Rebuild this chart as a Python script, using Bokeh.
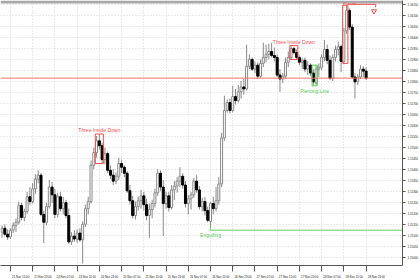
from bokeh.plotting import figure
from bokeh.models import (Range1d, FixedTicker, Span, BoxAnnotation, Label,
                          ColumnDataSource, NumeralTickFormatter)
from bokeh.embed import file_html
from bokeh.resources import INLINE

# ---------------- data (H1 candles, bar index 0 = 21 Nov 15:00) ----------------
first_index = -3
opens = [1.15115, 1.15133, 1.15106, 1.15093, 1.15124, 1.15146, 1.15160, 1.15236, 1.15182, 1.15209,
         1.15276, 1.15254, 1.15312, 1.15356, 1.15374, 1.15196, 1.15160, 1.15231, 1.15320, 1.15285,
         1.15196, 1.15276, 1.15222, 1.15249, 1.15191, 1.15071, 1.15097, 1.15084, 1.15111, 1.15080,
         1.15151, 1.15222, 1.15254, 1.15419, 1.15477, 1.15530, 1.15508, 1.15445, 1.15472, 1.15396,
         1.15374, 1.15347, 1.15369, 1.15427, 1.15410, 1.15383, 1.15303, 1.15258, 1.15191, 1.15231,
         1.15258, 1.15280, 1.15240, 1.15191, 1.15218, 1.15245, 1.15294, 1.15383, 1.15320, 1.15245,
         1.15280, 1.15227, 1.15307, 1.15325, 1.15347, 1.15369, 1.15329, 1.15245, 1.15267, 1.15285,
         1.15347, 1.15307, 1.15231, 1.15254, 1.15213, 1.15164, 1.15245, 1.15222, 1.15258, 1.15334,
         1.15543, 1.15668, 1.15704, 1.15668, 1.15731, 1.15713, 1.15753, 1.15775, 1.15766, 1.15869,
         1.15900, 1.15856, 1.15874, 1.15824, 1.15882, 1.15909, 1.15923, 1.15936, 1.15918, 1.15909,
         1.15829, 1.15811, 1.15824, 1.15887, 1.15909, 1.15949, 1.15931, 1.15909, 1.15887, 1.15896,
         1.15856, 1.15874, 1.15838, 1.15793, 1.15856, 1.15865, 1.15909, 1.15945, 1.15896, 1.15815,
         1.15909, 1.15945, 1.15958, 1.15891, 1.16030, 1.16123, 1.16047, 1.15820, 1.15798, 1.15820,
         1.15856, 1.15847]
highs = [1.15146, 1.15151, 1.15128, 1.15133, 1.15160, 1.15178, 1.15254, 1.15249, 1.15222, 1.15298,
         1.15320, 1.15338, 1.15378, 1.15396, 1.15383, 1.15213, 1.15249, 1.15352, 1.15343, 1.15312,
         1.15294, 1.15298, 1.15276, 1.15262, 1.15222, 1.15115, 1.15124, 1.15128, 1.15133, 1.15164,
         1.15240, 1.15276, 1.15441, 1.15499, 1.15552, 1.15561, 1.15521, 1.15499, 1.15481, 1.15419,
         1.15401, 1.15387, 1.15454, 1.15445, 1.15419, 1.15392, 1.15329, 1.15280, 1.15254, 1.15276,
         1.15307, 1.15298, 1.15267, 1.15245, 1.15262, 1.15312, 1.15401, 1.15396, 1.15352, 1.15298,
         1.15298, 1.15329, 1.15347, 1.15365, 1.15410, 1.15383, 1.15347, 1.15285, 1.15298, 1.15361,
         1.15374, 1.15325, 1.15271, 1.15276, 1.15231, 1.15254, 1.15276, 1.15320, 1.15365, 1.15566,
         1.15735, 1.15717, 1.15722, 1.15780, 1.15766, 1.15784, 1.15802, 1.15811, 1.15967, 1.15923,
         1.15909, 1.15891, 1.15887, 1.15900, 1.15976, 1.15967, 1.15972, 1.15976, 1.15954, 1.15923,
         1.15856, 1.15838, 1.15909, 1.15936, 1.15963, 1.15958, 1.15945, 1.15918, 1.15905, 1.15909,
         1.15891, 1.15882, 1.15856, 1.15874, 1.15882, 1.15923, 1.15989, 1.15967, 1.15918, 1.15923,
         1.15963, 1.15981, 1.15967, 1.16043, 1.16146, 1.16132, 1.16061, 1.15838, 1.15833, 1.15874,
         1.15869, 1.15865]
lows = [1.15089, 1.15097, 1.15080, 1.15084, 1.15111, 1.15115, 1.15151, 1.15169, 1.15164, 1.15196,
        1.15240, 1.15245, 1.15289, 1.15338, 1.15187, 1.15066, 1.15146, 1.15222, 1.15249, 1.15178,
        1.15182, 1.15209, 1.15196, 1.15178, 1.15062, 1.15057, 1.15071, 1.15066, 1.15071, 1.14973,
        1.15138, 1.15196, 1.15245, 1.15401, 1.15454, 1.15490, 1.15427, 1.15423, 1.15383, 1.15356,
        1.15329, 1.15334, 1.15352, 1.15383, 1.15365, 1.15294, 1.15240, 1.15178, 1.15173, 1.15213,
        1.15222, 1.15213, 1.15169, 1.15089, 1.15178, 1.15227, 1.15280, 1.15303, 1.15097, 1.15222,
        1.15209, 1.15218, 1.15262, 1.15294, 1.15320, 1.15312, 1.15227, 1.15196, 1.15218, 1.15271,
        1.15294, 1.15218, 1.15209, 1.15191, 1.15160, 1.15124, 1.15196, 1.15209, 1.15240, 1.15320,
        1.15530, 1.15659, 1.15655, 1.15659, 1.15695, 1.15704, 1.15722, 1.15740, 1.15758, 1.15856,
        1.15847, 1.15838, 1.15811, 1.15815, 1.15865, 1.15887, 1.15900, 1.15909, 1.15891, 1.15820,
        1.15753, 1.15793, 1.15811, 1.15865, 1.15900, 1.15923, 1.15900, 1.15874, 1.15856, 1.15842,
        1.15829, 1.15824, 1.15780, 1.15784, 1.15820, 1.15851, 1.15891, 1.15878, 1.15807, 1.15802,
        1.15891, 1.15918, 1.15842, 1.15882, 1.16016, 1.16034, 1.15811, 1.15722, 1.15784, 1.15811,
        1.15820, 1.15807]
closes = [1.15133, 1.15106, 1.15093, 1.15124, 1.15146, 1.15160, 1.15236, 1.15182, 1.15209, 1.15276,
          1.15254, 1.15312, 1.15356, 1.15374, 1.15196, 1.15160, 1.15231, 1.15320, 1.15285, 1.15196,
          1.15276, 1.15222, 1.15249, 1.15191, 1.15071, 1.15097, 1.15084, 1.15111, 1.15080, 1.15151,
          1.15222, 1.15254, 1.15419, 1.15477, 1.15530, 1.15508, 1.15445, 1.15472, 1.15396, 1.15374,
          1.15347, 1.15369, 1.15427, 1.15410, 1.15383, 1.15303, 1.15258, 1.15191, 1.15231, 1.15258,
          1.15280, 1.15240, 1.15191, 1.15218, 1.15245, 1.15294, 1.15383, 1.15320, 1.15245, 1.15280,
          1.15227, 1.15307, 1.15325, 1.15347, 1.15369, 1.15329, 1.15245, 1.15267, 1.15285, 1.15347,
          1.15307, 1.15231, 1.15254, 1.15213, 1.15169, 1.15245, 1.15222, 1.15258, 1.15334, 1.15543,
          1.15668, 1.15704, 1.15668, 1.15731, 1.15713, 1.15753, 1.15775, 1.15766, 1.15869, 1.15900,
          1.15856, 1.15874, 1.15824, 1.15882, 1.15909, 1.15923, 1.15936, 1.15918, 1.15909, 1.15829,
          1.15811, 1.15824, 1.15887, 1.15909, 1.15949, 1.15931, 1.15909, 1.15887, 1.15896, 1.15856,
          1.15874, 1.15838, 1.15798, 1.15856, 1.15865, 1.15909, 1.15945, 1.15896, 1.15815, 1.15909,
          1.15945, 1.15958, 1.15891, 1.16030, 1.16123, 1.16047, 1.15820, 1.15798, 1.15820, 1.15856,
          1.15847, 1.15815]

time_tick_bars = [0, 8, 16, 24, 32, 40, 48, 56, 64, 72, 80, 88, 96, 104, 112, 120, 128]
time_tick_labels = ["21 Nov 15:00", "21 Nov 23:00", "24 Nov 07:00", "24 Nov 15:00", "24 Nov 23:00",
                    "25 Nov 07:00", "25 Nov 15:00", "25 Nov 23:00", "26 Nov 07:00", "26 Nov 15:00",
                    "26 Nov 23:00", "27 Nov 07:00", "27 Nov 15:00", "27 Nov 23:00", "28 Nov 07:00",
                    "28 Nov 15:00", "28 Nov 23:00"]
price_ticks = [1.15000, 1.15050, 1.15100, 1.15150, 1.15200, 1.15250, 1.15300, 1.15350, 1.15400,
               1.15450, 1.15500, 1.15550, 1.15600, 1.15650, 1.15700, 1.15750, 1.15800, 1.15850,
               1.15900, 1.15950, 1.16000, 1.16050, 1.16100, 1.16150]

# candle patterns: (name, first bar, last bar, colour, label side)
patterns = [("Three Inside Down", 31, 33, "#f05050", "above"),
            ("Three Inside Down", 101, 103, "#f05050", "above"),
            ("Piercing Line", 109, 110, "#55cc55", "below"),
            ("Harami", 120, 121, "#f05050", "top")]
engulfing_bar = 72

# ---------------- figure ----------------
Y0, Y1 = 1.149636, 1.161678
FRAME_H = 270
X0, X1 = -3.571, 141.1
ppx = (Y1 - Y0) / FRAME_H
p = figure(width=420, height=280, x_range=Range1d(X0, X1), y_range=Range1d(Y0, Y1),
           output_backend="svg", toolbar_location=None, y_axis_location="right",
           min_border_left=0, min_border_right=0, min_border_top=0, min_border_bottom=10)
p.outline_line_color = None
p.background_fill_color = "white"
p.border_fill_color = "white"

FONT = "Liberation Sans"
ANN_SIZE = "5px"
# right price axis
ya = p.yaxis[0]
ya.ticker = FixedTicker(ticks=price_ticks)
ya.formatter = NumeralTickFormatter(format="0.00000")
ya.major_label_text_font = FONT
ya.major_label_text_font_size = "2.9px"
ya.major_label_text_color = "#222222"
ya.major_tick_out = 3
ya.major_tick_in = 0
ya.minor_tick_line_color = None
ya.major_label_standoff = 2
ya.axis_line_color = "#555555"
ya.major_tick_line_color = "#555555"

# bottom time axis: separators as minor ticks, labels right of separators
label_pos = [b + 3.7 for b in time_tick_bars]
xa = p.xaxis[0]
xa.ticker = FixedTicker(ticks=label_pos, minor_ticks=time_tick_bars)
xa.major_label_overrides = {pos: lab for pos, lab in zip(label_pos, time_tick_labels)}
xa.major_label_text_font = FONT
xa.major_label_text_font_size = "2.9px"
xa.major_label_text_color = "#222222"
xa.major_tick_out = 0
xa.major_tick_in = 0
xa.minor_tick_out = 6
xa.minor_tick_in = 0
xa.minor_tick_line_color = "#555555"
xa.major_label_standoff = 3
xa.axis_line_color = "#555555"

p.xgrid.ticker = FixedTicker(ticks=time_tick_bars)
for g in (p.xgrid[0], p.ygrid[0]):
    g.grid_line_color = "#d6d6d6"
    g.grid_line_dash = "1 2"
    g.grid_line_width = 1

# top grey strip
p.add_layout(BoxAnnotation(bottom=Y1 - 3 * ppx, fill_color="#a8a8a8", fill_alpha=1,
                           line_color=None, level="underlay"))

# ---------------- candles ----------------
idx = list(range(first_index, first_index + len(opens)))
bull = [k for k in range(len(opens)) if closes[k] >= opens[k]]
bear = [k for k in range(len(opens)) if closes[k] < opens[k]]

wick_src = ColumnDataSource(dict(x=idx, h=highs, l=lows))
p.segment(x0="x", y0="h", x1="x", y1="l", source=wick_src, line_color="#888888", line_width=1)

bull_src = ColumnDataSource(dict(x=[idx[k] for k in bull], top=[closes[k] for k in bull],
                                 bottom=[opens[k] for k in bull]))
bear_src = ColumnDataSource(dict(x=[idx[k] for k in bear], top=[opens[k] for k in bear],
                                 bottom=[closes[k] for k in bear]))
p.vbar(x="x", top="top", bottom="bottom", width=0.72, source=bull_src,
       fill_color="#ffffff", line_color="#8a8a8a", line_width=1)
p.vbar(x="x", top="top", bottom="bottom", width=0.72, source=bear_src,
       fill_color="#000000", line_color="#000000", line_width=1)

# ---------------- current price line ----------------
last = closes[-1]
p.add_layout(Span(location=last, dimension="width", line_color="#f07070", line_width=1))
p.add_layout(Label(x=X1, y=last, text="%.5f" % last, x_offset=1,
                   text_font=FONT, text_font_size="2.9px", text_color="white",
                   text_baseline="middle", background_fill_color="#e03030",
                   border_line_color="#e03030"))

# ---------------- pattern annotations ----------------
def pos(k):
    return k - first_index

for name, a, b, col, side in patterns:
    hi = max(highs[pos(a):pos(b) + 1])
    lo = min(lows[pos(a):pos(b) + 1])
    p.quad(left=[a - 0.45], right=[b + 0.45], top=[hi], bottom=[lo],
           fill_color=None, line_color=col, line_width=1)
    cx = (a + b) / 2
    if side == "above":
        p.add_layout(Label(x=cx, y=hi, text=name, y_offset=1, text_align="center",
                           text_baseline="bottom", text_font=FONT, text_font_size=ANN_SIZE,
                           text_color=col))
    elif side == "top":
        p.add_layout(Label(x=cx + 1.5, y=Y1, text=name, y_offset=0, text_align="center",
                           text_baseline="top", text_font=FONT, text_font_size="4.2px",
                           text_color=col))
    else:
        p.add_layout(Label(x=cx, y=lo, text=name, y_offset=-2, text_align="center",
                           text_baseline="top", text_font=FONT, text_font_size=ANN_SIZE,
                           text_color=col))
    if name == "Harami":
        xr = b + 0.45
        p.line(x=[xr, xr + 10, xr + 10], y=[hi + ppx, hi + ppx, hi - 2 * ppx],
               line_color=col, line_width=1)
        p.scatter(x=[xr + 9.4], y=[hi - 6 * ppx], marker="inverted_triangle", size=5,
                  fill_color="white", line_color=col, line_width=1)

# engulfing level
eg = lows[pos(engulfing_bar)]
p.line(x=[engulfing_bar, engulfing_bar], y=[eg + 4 * ppx, eg], line_color="#66cc66", line_width=1)
p.line(x=[engulfing_bar, X1], y=[eg, eg], line_color="#66cc66", line_width=1)
p.add_layout(Label(x=engulfing_bar, y=eg, text="Engulfing", y_offset=-2, text_align="center",
                   text_baseline="top", text_font=FONT, text_font_size=ANN_SIZE,
                   text_color="#55cc55"))

open("out.html", "w").write(file_html(p, INLINE))
